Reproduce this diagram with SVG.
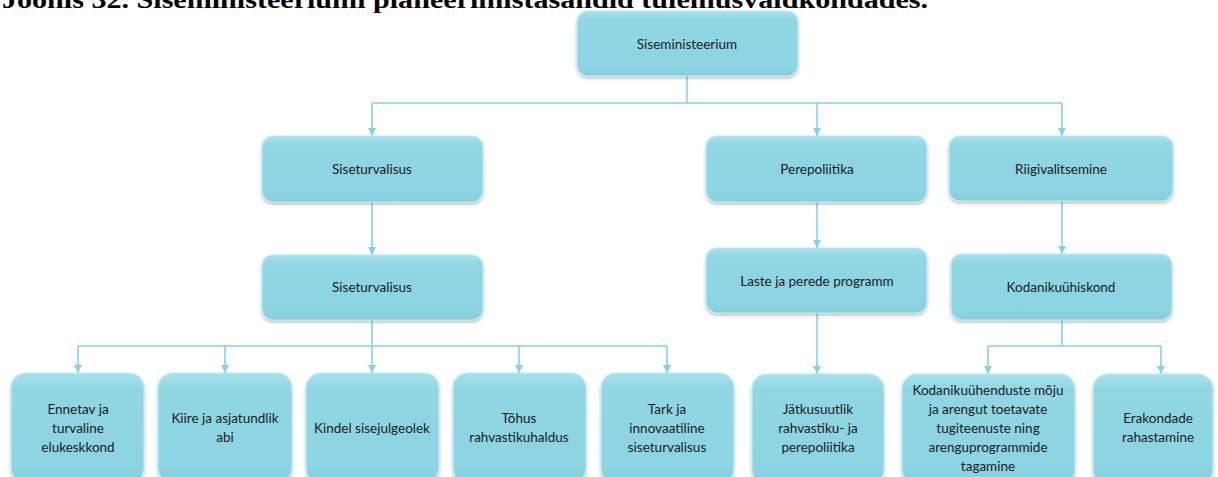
<svg xmlns="http://www.w3.org/2000/svg" width="1218" height="477" viewBox="0 0 1218 477">
<style>
.box{fill:url(#g);stroke:#BDEBF3;stroke-width:1.2;filter:url(#sh)}
.t{font-family:Lato,"Open Sans",sans-serif;font-size:13.5px;fill:#1a1a1a;text-anchor:middle}
.c{fill:none;stroke:#86D2E2;stroke-width:1.6}
.title{font-family:"Liberation Serif","Times New Roman",serif;font-weight:bold;font-size:26px;fill:#000}
</style>
<defs>
<linearGradient id="g" x1="0" y1="0" x2="0" y2="1">
<stop offset="0" stop-color="#A6E2EC"/>
<stop offset="0.15" stop-color="#90D6E3"/>
<stop offset="0.85" stop-color="#8CD4E2"/>
<stop offset="1" stop-color="#84CEDD"/>
</linearGradient>
<filter id="sh" x="-10%" y="-10%" width="120%" height="130%">
<feDropShadow dx="0" dy="2" stdDeviation="1.5" flood-color="#000" flood-opacity="0.25"/>
</filter>
<marker id="a" markerWidth="8" markerHeight="8" refX="4" refY="6" orient="auto-start-reverse" markerUnits="userSpaceOnUse" viewBox="0 0 8 8">
<path d="M0,0 L4,7 L8,0 Z" fill="#86D2E2" transform="rotate(-90 4 4)"/>
</marker>
<marker id="d" markerWidth="9" markerHeight="8" refX="4.5" refY="8" orient="0" markerUnits="userSpaceOnUse">
<path d="M0.5,0 L4.5,8 L8.5,0 Z" fill="#86D2E2"/>
</marker>
</defs>
<rect width="1218" height="477" fill="#fff"/>
<text class="title" x="2" y="8" textLength="926" lengthAdjust="spacingAndGlyphs">Joonis 32. Siseministeeriumi planeerimistasandid tulemusvaldkondades.</text>

<g id="connectors">
<path class="c" d="M687,76 V103"/>
<path class="c" d="M372,103 H1062"/>
<path class="c" d="M372,103 V136" marker-end="url(#d)"/>
<path class="c" d="M817,103 V136" marker-end="url(#d)"/>
<path class="c" d="M1062,103 V136" marker-end="url(#d)"/>
<path class="c" d="M372,202 V255" marker-end="url(#d)"/>
<path class="c" d="M817,202 V248" marker-end="url(#d)"/>
<path class="c" d="M1062,202 V254" marker-end="url(#d)"/>
<path class="c" d="M372,320 V346"/>
<path class="c" d="M78,346 H667"/>
<path class="c" d="M78,346 V373" marker-end="url(#d)"/>
<path class="c" d="M225,346 V373" marker-end="url(#d)"/>
<path class="c" d="M372,346 V373" marker-end="url(#d)"/>
<path class="c" d="M519,346 V373" marker-end="url(#d)"/>
<path class="c" d="M667,346 V373" marker-end="url(#d)"/>
<path class="c" d="M817,313 V374" marker-end="url(#d)"/>
<path class="c" d="M1062,320 V346"/>
<path class="c" d="M988,346 H1161"/>
<path class="c" d="M988,346 V374" marker-end="url(#d)"/>
<path class="c" d="M1161,346 V374" marker-end="url(#d)"/>
</g>

<g id="n-siseministeerium"><rect class="box" x="577" y="11" width="221" height="65" rx="11"/><text class="t" x="687" y="49">Siseministeerium</text></g>

<g id="n-siseturvalisus1"><rect class="box" x="262" y="136" width="221" height="66" rx="11"/><text class="t" x="372" y="174">Siseturvalisus</text></g>
<g id="n-perepoliitika"><rect class="box" x="706" y="136" width="221" height="66" rx="11"/><text class="t" x="817" y="174">Perepoliitika</text></g>
<g id="n-riigivalitsemine"><rect class="box" x="949" y="136" width="224" height="65" rx="11"/><text class="t" x="1061" y="174">Riigivalitsemine</text></g>

<g id="n-siseturvalisus2"><rect class="box" x="262" y="255" width="221" height="65" rx="11"/><text class="t" x="372" y="292">Siseturvalisus</text></g>
<g id="n-laste"><rect class="box" x="706" y="248" width="221" height="65" rx="11"/><text class="t" x="817" y="286">Laste ja perede programm</text></g>
<g id="n-kodanikuyhiskond"><rect class="box" x="951" y="254" width="221" height="66" rx="11"/><text class="t" x="1061" y="292">Kodanikuühiskond</text></g>

<g id="n-ennetav"><rect class="box" x="11" y="373" width="133" height="110" rx="15"/><text class="t" x="78" y="414">Ennetav ja</text><text class="t" x="78" y="433">turvaline</text><text class="t" x="78" y="452">elukeskkond</text></g>
<g id="n-kiire"><rect class="box" x="158" y="373" width="134" height="110" rx="15"/><text class="t" x="225" y="423">Kiire ja asjatundlik</text><text class="t" x="225" y="442">abi</text></g>
<g id="n-kindel"><rect class="box" x="306" y="373" width="133" height="110" rx="15"/><text class="t" x="372" y="433">Kindel sisejulgeolek</text></g>
<g id="n-tohus"><rect class="box" x="453" y="373" width="133" height="110" rx="15"/><text class="t" x="519" y="423">Tõhus</text><text class="t" x="519" y="442">rahvastikuhaldus</text></g>
<g id="n-tark"><rect class="box" x="601" y="373" width="133" height="110" rx="15"/><text class="t" x="667" y="414">Tark ja</text><text class="t" x="667" y="433">innovaatiline</text><text class="t" x="667" y="452">siseturvalisus</text></g>
<g id="n-jatkusuutlik"><rect class="box" x="752" y="374" width="132" height="110" rx="15"/><text class="t" x="818" y="414">Jätkusuutlik</text><text class="t" x="818" y="433">rahvastiku- ja</text><text class="t" x="818" y="452">perepoliitika</text></g>
<g id="n-kodanikuyhendused"><rect class="box" x="902" y="374" width="173" height="110" rx="15"/><text class="t" x="988" y="395">Kodanikuühenduste  mõju</text><text class="t" x="988" y="414">ja arengut toetavate</text><text class="t" x="988" y="433">tugiteenuste ning</text><text class="t" x="988" y="452">arenguprogrammide</text><text class="t" x="988" y="471">tagamine</text></g>
<g id="n-erakondade"><rect class="box" x="1093" y="374" width="120" height="110" rx="15"/><text class="t" x="1158" y="423">Erakondade</text><text class="t" x="1158" y="442">rahastamine</text></g>
</svg>
